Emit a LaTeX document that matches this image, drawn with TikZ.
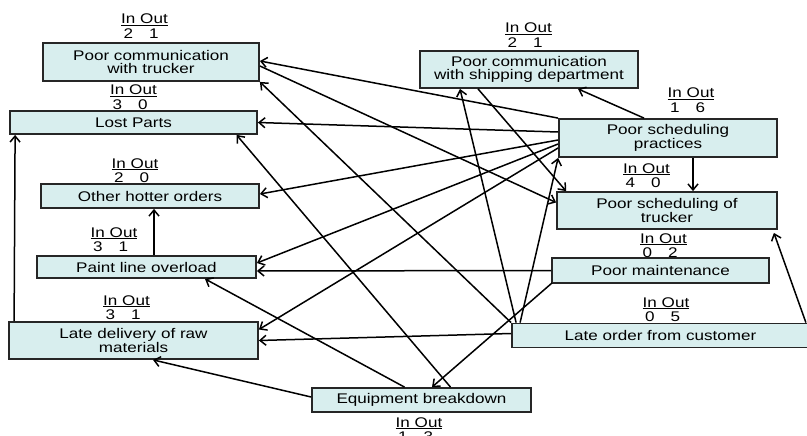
\documentclass[tikz,border=0pt]{standalone}
\usepackage{fontspec}
\setmainfont[FakeStretch=1.22]{Liberation Sans}
\usepackage{calc}
\usetikzlibrary{arrows.meta,calc}
\definecolor{boxfill}{RGB}{216,238,238}
% "In Out" counter: underlined heading, numbers centred under each word
\newcommand\inoutlabel[2]{\vtop{\baselineskip=14.5pt\lineskiplimit=-20pt
  \hbox{\underline{In Out}}%
  \hbox{\makebox[\widthof{In}]{#1}\ \makebox[\widthof{Out}]{#2}}}}
\begin{document}
\begin{tikzpicture}[x=1pt,y=-1pt,
  box/.style={draw=black!85, line width=1.8pt, fill=boxfill, inner sep=0pt,
              align=center, font=\fontsize{14}{13}\selectfont},
  tag/.style={inner sep=0pt, anchor=base, font=\fontsize{14}{14}\selectfont},
  link/.style={line width=1.5pt, -{Straight Barb[length=6pt,width=10pt]}}]
\useasboundingbox (0,0) rectangle (807,436);

% cause boxes
\node[box, minimum width=216, minimum height=38] (pct) at (151,62) {Poor communication\\with trucker};
\node[box, minimum width=247, minimum height=23] (lp)  at (133.5,122.5) {Lost Parts};
\node[box, minimum width=218, minimum height=24] (oho) at (150,196) {Other hotter orders};
\node[box, minimum width=219, minimum height=22] (plo) at (146.5,267) {Paint line overload};
\node[box, minimum width=249, minimum height=37] (ld)  at (133.5,340.5) {Late delivery of raw\\materials};
\node[box, minimum width=219, minimum height=24] (eb)  at (421.5,400) {Equipment breakdown};
\node[box, minimum width=218, minimum height=37] (pcs) at (529,69.5) {Poor communication\\with shipping department};
\node[box, minimum width=218, minimum height=38] (psp) at (668,138) {Poor scheduling\\practices};
\node[box, minimum width=220, minimum height=37] (pst) at (667,210.5) {Poor scheduling of\\trucker};
\node[box, minimum width=217, minimum height=25] (pm)  at (660.5,270.5) {Poor maintenance};
\node[box, minimum width=297, minimum height=24] (lo)  at (660.5,335.5) {Late order from customer};

% in/out counters
\node[tag] (pctT) at (144.5,24)  {\inoutlabel{2}{1}};
\node[tag] (lpT)  at (133.5,95)  {\inoutlabel{3}{0}};
\node[tag] (ohoT) at (135,168)   {\inoutlabel{2}{0}};
\node[tag] (ploT) at (114,237)   {\inoutlabel{3}{1}};
\node[tag] (ldT)  at (126.5,305) {\inoutlabel{3}{1}};
\node[tag] (ebT)  at (419,427)   {\inoutlabel{1}{3}};
\node[tag] (pcsT) at (528.5,33)  {\inoutlabel{2}{1}};
\node[tag] (pspT) at (691,98)    {\inoutlabel{1}{6}};
\node[tag] (pstT) at (646.5,173) {\inoutlabel{4}{0}};
\node[tag] (pmT)  at (663.5,243) {\inoutlabel{0}{2}};
\node[tag] (loT)  at (666,307)   {\inoutlabel{0}{5}};

% influence links
\draw[link] ($(ld.north west)+(6,0)$) -- ($(lp.south west)+(6,0)$);
\draw[link] ($(plo.north)+(7.5,0)$) -- ($(oho.south)+(4,0)$);
\draw[link] ($(psp.south)+(25,0)$) -- ($(pst.north)+(26,0)$);
\draw[link] ($(psp.north)+(-24,0)$) -- ($(pcs.south)+(49,0)$);
\draw[link] (psp.north west) -- ($(pct.east)+(0,-1)$);
\draw[link] ($(pct.east)+(0,4)$) -- ($(pst.west)+(0,-8)$);
\draw[link] ($(psp.west)+(0,-6)$) -- (lp.east);
\draw[link] ($(psp.west)+(0,2)$) -- ($(oho.east)+(0,-2)$);
\draw[link] ($(psp.west)+(0,6)$) -- ($(plo.east)+(0,-4)$);
\draw[link] ($(psp.west)+(0,10)$) -- ($(ld.east)+(0,-11)$);
\draw[link] ($(pcs.south)+(-51,0)$) -- ($(pst.north west)+(10,0)$);
\draw[link] ($(lo.north west)+(5,0)$) -- ($(pcs.south)+(-69,0)$);
\draw[link] ($(lo.north west)+(9,0)$) -- (psp.south west);
\draw[link] (lo.north west) -- (pct.south east);
\draw[link] ($(lo.west)+(0,-2)$) -- (ld.east);
\draw[link] ($(lo.north east)+(-4,0)$) -- ($(pst.south east)+(-4,3)$);
\draw[link] (pm.west) -- ($(plo.east)+(0,4)$);
\draw[link] ($(pm.south west)+(1,-1)$) -- ($(eb.north)+(10.5,0)$);
\draw[link] ($(eb.north)+(29,0)$) -- ($(lp.south)+(103,0)$);
\draw[link] ($(eb.north)+(-17,0)$) -- ($(plo.south)+(58.5,0)$);
\draw[link] ($(eb.west)+(0,-3)$) -- ($(ld.south)+(19.5,0)$);
\end{tikzpicture}
\end{document}
